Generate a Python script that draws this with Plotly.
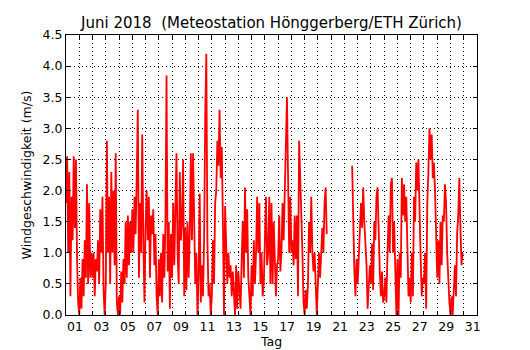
import plotly.graph_objects as go

# Wind speed (m/s) in 2-hour steps (00,02,...,22 h) for each day of June 2018
d01 = [1.8, 2.55, 1.0, 2.3, 0.3, 1.9, 1.2, 2.55, 1.4, 2.5, 0.9, 0.2]
d02 = [0.0, 0.6, 0.1, 0.9, 0.3, 1.2, 0.6, 2.1, 0.5, 1.8, 0.6, 1.0]
d03 = [0.6, 1.0, 0.3, 0.9, 0.7, 1.2, 0.5, 1.7, 1.0, 1.9, 0.4, 0.0]
d04 = [0.5, 2.8, 1.0, 1.9, 0.5, 2.3, 1.0, 2.0, 0.8, 2.6, 0.2, 0.0]
d05 = [0.3, 0.0, 0.7, 0.2, 0.9, 0.5, 1.5, 0.6, 1.6, 0.8, 1.5, 1.0]
d06 = [1.7, 1.0, 1.9, 1.3, 2.2, 3.3, 0.6, 1.8, 1.0, 2.9, 1.2, 0.2]
d07 = [1.4, 2.0, 1.2, 1.9, 0.6, 1.6, 1.3, 1.7, 0.8, 1.3, 0.3, 0.0]
d08 = [0.9, 0.3, 1.0, 0.2, 1.3, 0.6, 1.5, 3.85, 0.7, 1.5, 0.1, 1.3]
d09 = [0.6, 1.8, 0.8, 1.5, 2.6, 1.0, 0.5, 2.3, 1.2, 1.5, 2.5, 0.3]
d10 = [1.4, 0.4, 1.5, 0.6, 1.3, 2.6, 1.2, 2.6, 1.4, 0.5, 1.0, 0.0]
d11 = [0.6, 1.95, 0.2, 0.8, 0.3, 1.2, 3.2, 4.2, 1.2, 0.3, 0.5, 0.0]
d12 = [0.3, 1.2, 0.5, 1.8, 2.0, 2.8, 2.4, 3.3, 2.2, 2.7, 1.5, 0.0]
d13 = [1.75, 1.1, 0.5, 1.0, 0.6, 0.8, 0.3, 0.7, 0.2, 0.0, 0.8, 0.1]
d14 = [0.7, 0.3, 0.1, 0.9, 1.5, 0.6, 2.05, 1.0, 1.7, 0.6, 0.3, 0.0]
d15 = [0.8, 0.3, 1.2, 0.5, 1.0, 1.9, 1.0, 1.8, 0.5, 1.0, 0.3, 0.5]
d16 = [1.2, 1.9, 0.8, 1.0, 1.9, 0.5, 1.8, 0.5, 1.5, 1.0, 0.3, 0.8]
d17 = [0.9, 1.6, 0.7, 1.0, 1.8, 1.2, 2.0, 2.3, 3.5, 2.2, 1.0, 1.9]
d18 = [1.0, 1.2, 0.8, 1.6, 0.9, 1.6, 0.3, 2.8, 2.3, 1.5, 1.0, 0.2]
d19 = [0.0, 0.4, 0.1, 0.5, 1.5, 1.0, 1.9, 1.0, 0.7, 1.0, 0.3, 0.0]
d20 = [0.5, 1.0, 0.6, 1.0, 1.4, 1.0, 1.8, 2.05, 1.3, None, None, None]
d21 = [None] * 12
d22 = [None, None, None, None, None, None, None, 2.4, 1.3, 0.7, 0.3, 0.9]
d23 = [0.5, 1.0, 1.3, 1.8, 1.4, 2.05, 1.5, 1.2, 0.8, 0.1, 0.5, 0.8]
d24 = [0.5, 1.15, 0.4, 1.5, 1.2, 1.9, 2.05, 1.1, 0.7, 0.3, 0.7, 0.2]
d25 = [0.3, 0.6, 0.2, 1.0, 1.6, 1.0, 2.1, 2.2, 1.0, 1.5, 0.4, 0.0]
d26 = [0.9, 0.0, 1.0, 0.6, 2.2, 1.6, 2.1, 1.5, 1.9, 1.0, 0.3, 0.6]
d27 = [0.2, 1.0, 0.3, 1.9, 1.5, 2.45, 2.0, 2.5, 1.3, 0.9, 0.3, 0.6]
d28 = [0.5, 1.0, 0.1, 1.8, 2.3, 3.0, 2.5, 2.9, 2.2, 2.45, 2.0, 1.0]
d29 = [0.6, 1.2, 0.5, 1.5, 0.8, 1.6, 1.5, 2.1, 1.8, 1.0, 0.4, 0.2]
d30 = [0.0, 0.3, 0.0, 0.3, 0.8, 0.3, 1.3, 1.6, 2.2, 1.4, 0.8, 1.0]

days = [d01, d02, d03, d04, d05, d06, d07, d08, d09, d10,
        d11, d12, d13, d14, d15, d16, d17, d18, d19, d20,
        d21, d22, d23, d24, d25, d26, d27, d28, d29, d30]

tick_days = list(range(1, 32, 2))
tick_labels = ["%02d" % d for d in tick_days]

x, y = [], []
for i, vals in enumerate(days):
    for k, v in enumerate(vals):
        x.append(i + 1 + k / 12.0)
        y.append(v)

fig = go.Figure()
fig.add_trace(go.Scatter(x=x, y=y, mode="lines",
                         line=dict(color="#ff0000", width=1.8),
                         connectgaps=False, showlegend=False))

font = dict(family="DejaVu Sans", size=12.5, color="black")
grid = dict(showgrid=True, gridcolor="black", gridwidth=1, griddash="1px,3px")

# the page body adds an 8 px offset, so the figure is 8 px smaller
W, H = 522, 342
fig.update_layout(
    width=W, height=H,
    autosize=False,
    margin=dict(l=58, r=53, t=27, b=35, autoexpand=False),
    paper_bgcolor="white", plot_bgcolor="white",
    font=font,
    title=dict(text="Juni 2018  (Meteostation Hönggerberg/ETH Zürich)",
               x=0.5, xref="paper", xanchor="center",
               y=1 - 15 / H, yref="container", yanchor="middle",
               automargin=False,
               font=dict(family="DejaVu Sans", size=15, color="black")),
    xaxis=dict(range=[1, 32], tickmode="array", tickvals=tick_days, ticktext=tick_labels,
               ticklabelposition="outside right", automargin=False,
               ticks="inside", ticklen=4, tickcolor="black",
               showline=True, linecolor="black", linewidth=1, mirror="allticks",
               zeroline=False,
               minor=dict(tickvals=list(range(2, 33, 2)), ticks="inside", ticklen=4,
                          tickcolor="black", showgrid=True, gridcolor="black",
                          gridwidth=1, griddash="1px,3px"),
               title=dict(text="Tag", standoff=4, font=font),
               tickfont=font, **grid),
    yaxis=dict(range=[0, 4.5], tickmode="linear", tick0=0, dtick=0.5, tickformat=".1f",
               automargin=False,
               ticks="inside", ticklen=4, tickcolor="black",
               showline=True, linecolor="black", linewidth=1, mirror="allticks",
               zeroline=False,
               title=dict(text="Windgeschwindigkeit (m/s)", standoff=8, font=font),
               tickfont=font, **grid),
)

fig.write_html("out.html")
